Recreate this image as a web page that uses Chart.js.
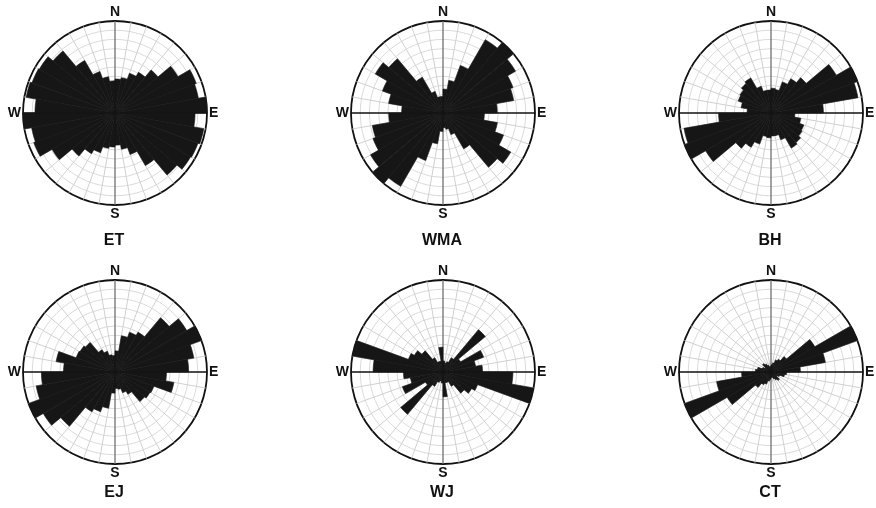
<!DOCTYPE html>
<html>
<head>
<meta charset="utf-8">
<title>Rose diagrams</title>
<script src="https://cdn.jsdelivr.net/npm/chart.js@4.4.1/dist/chart.umd.min.js"></script>
<style>
  body { margin: 0; background: #fff; }
  #wrap { position: relative; width: 876px; height: 508px; overflow: hidden; }
  #wrap canvas { position: absolute; }
</style>
</head>
<body>
<div id="wrap">
  <canvas id="rose-ET"  width="220" height="244" style="left:4px;top:5px"></canvas>
  <canvas id="rose-WMA" width="220" height="244" style="left:332px;top:5px"></canvas>
  <canvas id="rose-BH"  width="220" height="244" style="left:660px;top:5px"></canvas>
  <canvas id="rose-EJ"  width="220" height="237" style="left:4px;top:264px"></canvas>
  <canvas id="rose-WJ"  width="220" height="237" style="left:332px;top:264px"></canvas>
  <canvas id="rose-CT"  width="220" height="237" style="left:660px;top:264px"></canvas>
</div>
<script>
// 10 degree bins, clockwise from north
const bearings = [0, 10, 20, 30, 40, 50, 60, 70, 80, 90, 100, 110, 120, 130, 140, 150, 160, 170,
                  180, 190, 200, 210, 220, 230, 240, 250, 260, 270, 280, 290, 300, 310, 320, 330, 340, 350];
const compassPoints = { 0: "N", 90: "E", 180: "S", 270: "W" };

// radial scale (relative frequency), 10 rings
const rMax = 10;
const ringStep = 1;

// bidirectional roses: 180-350 roughly repeats 0-170
const ET  = [3.7, 3.9, 4.6, 5.1, 6.1, 7.9, 9.4, 9.2, 10, 8.7, 9.8, 9.6, 9.5, 8.8, 6.6, 4.8, 4.0, 3.5,
             3.7, 3.9, 4.6, 5.1, 6.1, 7.9, 9.4, 9.2, 10, 8.7, 9.8, 9.6, 9.5, 8.8, 6.6, 4.8, 4.0, 3.5];
const WMA = [2.6, 3.6, 5.5, 9.2, 10, 9.1, 8.1, 7.8, 5.9, 4.5, 6.0, 7.0, 8.5, 7.7, 4.5, 2.5, 1.8, 1.6,
             2.0, 3.4, 5.5, 9.2, 10, 9.1, 8.1, 7.8, 5.9, 4.5, 6.0, 7.0, 8.5, 7.7, 4.5, 2.5, 1.8, 1.8];
const BH  = [2.7, 2.6, 3.6, 4.3, 5.0, 8.2, 10, 9.6, 5.7, 2.6, 3.3, 3.8, 3.9, 4.2, 4.4, 3.1, 2.5, 2.5,
             2.7, 2.6, 3.6, 4.3, 5.0, 8.2, 10, 9.6, 5.7, 2.6, 3.3, 3.8, 3.9, 4.2, 4.4, 3.1, 2.5, 2.5];
const EJ  = [2.3, 4.0, 4.6, 5.0, 7.7, 9.0, 10, 8.7, 8.0, 5.6, 6.5, 4.5, 4.4, 4.2, 2.8, 2.4, 1.9, 1.8,
             2.3, 4.0, 4.6, 5.0, 7.7, 9.0, 10, 8.7, 8.0, 5.6, 6.5, 4.5, 4.4, 4.2, 2.8, 2.4, 1.9, 1.8];
const WJ  = [1.2, 1.0, 1.2, 1.8, 6.0, 2.2, 4.7, 3.6, 4.3, 7.6, 10, 4.0, 3.6, 3.0, 1.8, 1.2, 1.2, 2.7,
             1.2, 1.0, 1.2, 1.8, 6.0, 2.2, 4.7, 3.6, 4.3, 7.6, 10, 4.0, 3.6, 3.0, 1.8, 1.2, 1.2, 2.7];
const CT  = [0.8, 1.0, 1.4, 1.6, 2.2, 5.5, 10, 6.0, 3.2, 1.7, 1.5, 1.0, 0.8, 1.2, 1.0, 0.8, 0.6, 0.6,
             0.8, 1.0, 1.4, 1.6, 2.2, 5.5, 10, 6.0, 3.2, 1.7, 1.5, 1.0, 0.8, 1.2, 1.0, 0.8, 0.6, 0.6];

const roses = [
  { name: "ET",  values: ET,  row: 0 },
  { name: "WMA", values: WMA, row: 0 },
  { name: "BH",  values: BH,  row: 0 },
  { name: "EJ",  values: EJ,  row: 1 },
  { name: "WJ",  values: WJ,  row: 1 },
  { name: "CT",  values: CT,  row: 1 },
];

const FONT = "'Liberation Sans', Arial, Helvetica, sans-serif";
const labels = bearings.map((b) => compassPoints[b] || "");

function angleLineColor(ctx) {
  const b = bearings[ctx.index];
  if (b === 90 || b === 270) return "#111111";
  if (b === 0 || b === 180) return "#707070";
  return "#d0d0d0";
}

roses.forEach((rose) => {
  new Chart(document.getElementById("rose-" + rose.name), {
    type: "polarArea",
    data: {
      labels: labels,
      datasets: [
        {
          data: rose.values,
          backgroundColor: "#161616",
          borderColor: "#161616",
          borderWidth: 0.6,
        },
      ],
    },
    options: {
      responsive: false,
      animation: false,
      layout: { padding: 0 },
      plugins: {
        legend: { display: false },
        tooltip: { enabled: false },
        title: {
          display: true,
          text: rose.name,
          position: "bottom",
          color: "#111",
          font: { family: FONT, size: 16, weight: "bold", lineHeight: 1 },
          padding: { top: rose.row === 0 ? 12 : 5, bottom: 0 },
        },
      },
      scales: {
        r: {
          min: 0,
          max: rMax,
          ticks: { display: false, stepSize: ringStep },
          grid: {
            circular: true,
            color: (ctx) => (ctx.tick && ctx.tick.value === rMax ? "#111111" : "#dadada"),
            lineWidth: (ctx) => (ctx.tick && ctx.tick.value === rMax ? 1.8 : 1),
          },
          angleLines: {
            display: true,
            color: angleLineColor,
            lineWidth: (ctx) => (bearings[ctx.index] % 90 === 0 ? 1.3 : 1),
          },
          pointLabels: {
            display: true,
            padding: 2,
            color: "#111",
            font: { family: FONT, size: 14, weight: "bold", lineHeight: 1 },
          },
        },
      },
    },
  });
});
</script>
</body>
</html>
